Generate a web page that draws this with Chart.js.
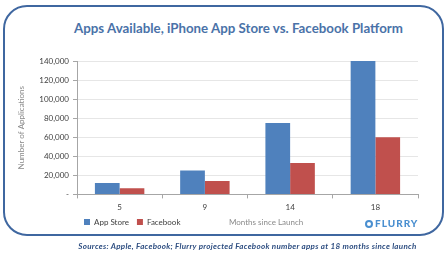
<!DOCTYPE html>
<html lang="en">
<head>
  <meta charset="UTF-8">
  <title>Apps Available, iPhone App Store vs. Facebook Platform</title>
  <script src="https://cdn.jsdelivr.net/npm/chart.js"></script>
  <style>
    body {
      margin: 0;
      width: 446px;
      height: 259px;
      background: #fff;
      font-family: Lato, "Liberation Sans", sans-serif;
      position: relative;
      overflow: hidden;
    }
    .frame {
      position: absolute;
      left: 3px;
      top: 5px;
      width: 437px;
      height: 227px;
      border: 2px solid #3f67a0;
      border-radius: 24px;
    }
    .title {
      position: absolute;
      left: 0;
      width: 477px;
      top: 20px;
      text-align: center;
      font-size: 13.3px;
      font-weight: bold;
      color: #4a72a8;
    }
    .chart-box {
      position: absolute;
      left: 0;
      top: 40px;
      width: 446px;
      height: 202px;
    }
    .xtitle {
      position: absolute;
      left: 229px;
      top: 217px;
      font-size: 8px;
      color: #8a8a8a;
    }
    .flurry {
      position: absolute;
      left: 365px;
      top: 217px;
      font-size: 10px;
      font-weight: 900;
      letter-spacing: 1px;
      color: #4a8fd0;
    }
    .flurry span {
      display: inline-block;
      width: 8px;
      height: 8px;
      border: 2px solid #4a8fd0;
      border-radius: 50%;
      box-sizing: border-box;
      margin-right: 2px;
      vertical-align: -1px;
    }
    .source {
      position: absolute;
      left: 0;
      width: 495px;
      top: 241px;
      text-align: center;
      font-size: 8px;
      letter-spacing: 0.3px;
      font-weight: bold;
      font-style: italic;
      color: #2f4f82;
    }
  </style>
</head>
<body>
  <div class="frame"></div>
  <div class="title">Apps Available, iPhone App Store vs. Facebook Platform</div>
  <div class="chart-box"><canvas id="appsChart"></canvas></div>
  <div class="xtitle">Months since Launch</div>
  <div class="flurry"><span></span>FLURRY</div>
  <div class="source">Sources: Apple, Facebook; Flurry projected Facebook number apps at 18 months since launch</div>

  <script>
    const months = ['5', '9', '14', '18'];
    const appStore = [12000, 25000, 75000, 140000];
    const facebook = [6500, 14000, 33000, 60000];
    const yTicks = [0, 20000, 40000, 60000, 80000, 100000, 120000, 140000];

    // legend sits on the same row as the axis caption, left under the plot
    const legendShift = {
      id: 'legendShift',
      afterLayout(chart) {
        chart.legend.left = 76;
        chart.legend.top -= 6;
      }
    };

    const ctx = document.getElementById('appsChart').getContext('2d');
    new Chart(ctx, {
      type: 'bar',
      data: {
        labels: months,
        datasets: [
          {
            label: 'App Store',
            data: appStore,
            backgroundColor: '#4f81bd'
          },
          {
            label: 'Facebook',
            data: facebook,
            backgroundColor: '#c0504d'
          }
        ]
      },
      plugins: [legendShift],
      options: {
        responsive: true,
        maintainAspectRatio: false,
        animation: false,
        layout: {
          padding: { top: 21, right: 28, left: 0, bottom: 0 }
        },
        datasets: {
          bar: { categoryPercentage: 0.58, barPercentage: 1 }
        },
        plugins: {
          tooltip: { enabled: false },
          legend: {
            position: 'bottom',
            align: 'start',
            labels: {
              boxWidth: 6,
              boxHeight: 6,
              padding: 8,
              color: '#404040',
              font: { family: 'Lato', size: 8 }
            }
          }
        },
        scales: {
          x: {
            grid: {
              display: true,
              drawOnChartArea: false,
              offset: true,
              tickLength: 4,
              color: '#a6a6a6'
            },
            border: { color: '#a6a6a6', width: 1 },
            ticks: {
              color: '#404040',
              padding: 4,
              font: { family: 'Lato', size: 8 }
            }
          },
          y: {
            min: 0,
            max: 140000,
            afterFit(scale) { scale.width = 77; },
            afterBuildTicks(scale) {
              scale.ticks = yTicks.map(v => ({ value: v }));
            },
            grid: {
              color: '#e6e6e6',
              tickLength: 4,
              tickColor: '#a6a6a6'
            },
            border: { color: '#a6a6a6', width: 1 },
            ticks: {
              color: '#404040',
              padding: 4,
              font: { family: 'Lato', size: 8 },
              callback: v => v === 0 ? '-' : v.toLocaleString('en-US')
            },
            title: {
              display: true,
              text: 'Number of Applications',
              color: '#8a8a8a',
              padding: { top: 17, bottom: 0 },
              font: { family: 'Lato', size: 8 }
            }
          }
        }
      }
    });
  </script>
</body>
</html>
